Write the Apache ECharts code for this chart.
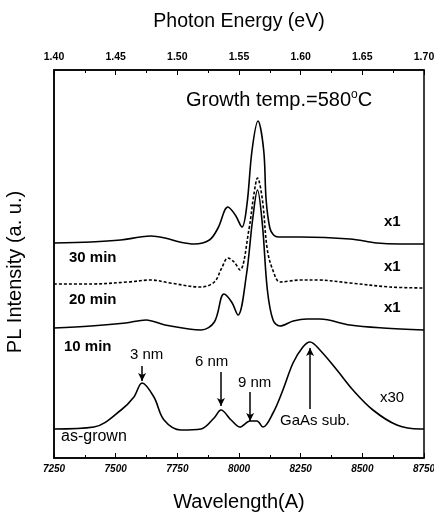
<!DOCTYPE html>
<html><head><meta charset="utf-8">
<script src="https://cdn.jsdelivr.net/npm/echarts@6/dist/echarts.min.js"></script>
<style>html,body{margin:0;padding:0;background:#fff}#c{width:434px;height:512px}</style>
</head><body><div id="c"></div>
<script>
// Wavelength (Å) and PL intensity (a.u., stacked offsets) for each anneal time
var wl30 = [7250,7400,7520,7600,7643,7700,7760,7818,7880,7915,7955,7985,8012,8032,8053,8077,8100,8110,8125,8140,8160,8250,8450,8559,8650,8750];
var pl30 = [215,216,218,221,222,220,216,214,218,230,251,243,231,253,308,337,308,258,230,223,221,221,219,215,214,214];
var wl20 = [7250,7400,7550,7643,7720,7846,7900,7930,7955,7980,8004,8040,8060,8075,8095,8115,8140,8166,8250,8316,8450,8612,8750];
var pl20 = [174,174,176,178,175,171,176,190,200,196,188,228,263,280,258,208,186,176,178,178,175,171,170];
var wl10 = [7250,7400,7540,7623,7700,7846,7900,7939,7970,7996,8030,8055,8075,8095,8115,8138,8166,8220,8276,8328,8450,8584,8750];
var pl10 = [130,132,135,138,133,128,136,164,156,143,183,238,268,233,168,138,132,137,139,139,133,130,128];
var wlAG = [7250,7412,7522,7574,7607,7655,7696,7765,7846,7899,7927,7968,8004,8045,8073,8097,8138,8178,8219,8259,8288,8328,8397,8462,8543,8640,8734,8750];
var plAG = [29,31,48,61,75,61,38,28,29,40,48,38,31,37,37,31,45,68,95,111,116,108,88,68,48,33,29,29];
// arrows: [wavelength, from, to]
var arrows = [[7607,92,77],[7927,86,52],[8045,66,37],[8288,49,110]];
var wlTicks = [7250,7500,7750,8000,8250,8500,8750];
var eTicks = [1.40,1.45,1.50,1.55,1.60,1.65,1.70];

function pairs(x,y){return x.map(function(v,i){return [v,y[i]];});}
var chart = echarts.init(document.getElementById('c'));
var FF = '"Liberation Sans", Arial, sans-serif';
var lineBase = {type:'line',smooth:0.35,symbol:'none',xAxisIndex:0,yAxisIndex:0,lineStyle:{color:'#000',width:1.6}};
function txt(x,y,s,size,bold){return {type:'text',left:x,top:y,style:{text:s,fill:'#000',font:(bold?'bold ':'')+size+'px '+FF}};}
chart.setOption({
  animation:false,
  grid:{left:54,right:10,top:70,bottom:54,show:true,borderColor:'#000',borderWidth:1.5,outerBoundsMode:'none',containLabel:false},
  xAxis:[{type:'value',min:7250,max:8750,interval:250,position:'bottom',
    axisLine:{lineStyle:{color:'#000',width:1.5}},
    axisTick:{inside:true,length:5,lineStyle:{color:'#000'}},
    minorTick:{show:true,splitNumber:2,length:3,lineStyle:{color:'#000'}},
    splitLine:{show:false},
    axisLabel:{color:'#000',fontSize:10,fontWeight:'bold',fontStyle:'italic',fontFamily:'Liberation Sans',margin:6,formatter:function(v){return String(v);}},
    name:'Wavelength(A)',nameLocation:'middle',nameGap:34,nameTextStyle:{color:'#000',fontSize:20,fontFamily:'Liberation Sans'}},
   {type:'value',min:1.40,max:1.70,interval:0.05,position:'top',
    axisLine:{lineStyle:{color:'#000',width:1.5}},
    axisTick:{inside:true,length:5,lineStyle:{color:'#000'}},
    minorTick:{show:true,splitNumber:2,length:3,lineStyle:{color:'#000'}},
    splitLine:{show:false},
    axisLabel:{color:'#000',fontSize:10.5,fontWeight:'bold',fontFamily:'Liberation Sans',margin:7,formatter:function(v){return v.toFixed(2);}},
    name:'Photon Energy (eV)',nameLocation:'middle',nameGap:38,nameTextStyle:{color:'#000',fontSize:19.5,fontFamily:'Liberation Sans'}}],
  yAxis:{type:'value',min:0,max:388,axisLine:{show:true,lineStyle:{color:'#000',width:1.5}},axisTick:{show:false},axisLabel:{show:false},splitLine:{show:false}},
  series:[
    Object.assign({},lineBase,{name:'30 min',data:pairs(wl30,pl30)}),
    Object.assign({},lineBase,{name:'20 min',data:pairs(wl20,pl20),lineStyle:{color:'#000',width:1.6,type:[3,2]}}),
    Object.assign({},lineBase,{name:'10 min',data:pairs(wl10,pl10)}),
    Object.assign({},lineBase,{name:'as-grown',data:pairs(wlAG,plAG),
      markLine:{silent:true,symbol:['none','arrow'],symbolSize:[6,8],label:{show:false},lineStyle:{color:'#000',width:1.5,type:'solid'},
        data:arrows.map(function(a){return [{coord:[a[0],a[1]]},{coord:[a[0],a[2]]}];})}})
  ],
  graphic:[
    {type:'text',x:15,y:272,rotation:Math.PI/2,style:{text:'PL Intensity (a. u.)',fill:'#000',font:'20px '+FF,textAlign:'center',textVerticalAlign:'middle'}},
    {type:'text',left:186,top:89,style:{rich:{n:{fontSize:20,fontFamily:'Liberation Sans',fill:'#000'},s:{fontSize:12,fontFamily:'Liberation Sans',fill:'#000',verticalAlign:'top',padding:[0,0,10,0]}},text:'{n|Growth temp.=580}{s|o}{n|C}'}},
    txt(69,250,'30 min',15,true),
    txt(69,292,'20 min',15,true),
    txt(64,339,'10 min',15,true),
    txt(61,429,'as-grown',16,false),
    txt(384,214,'x1',15,true),
    txt(384,259,'x1',15,true),
    txt(384,300,'x1',15,true),
    txt(380,390,'x30',15,false),
    txt(130,347,'3 nm',15,false),
    txt(195,354,'6 nm',15,false),
    txt(238,375,'9 nm',15,false),
    txt(280,413,'GaAs sub.',15,false)
  ]
});
</script></body></html>
